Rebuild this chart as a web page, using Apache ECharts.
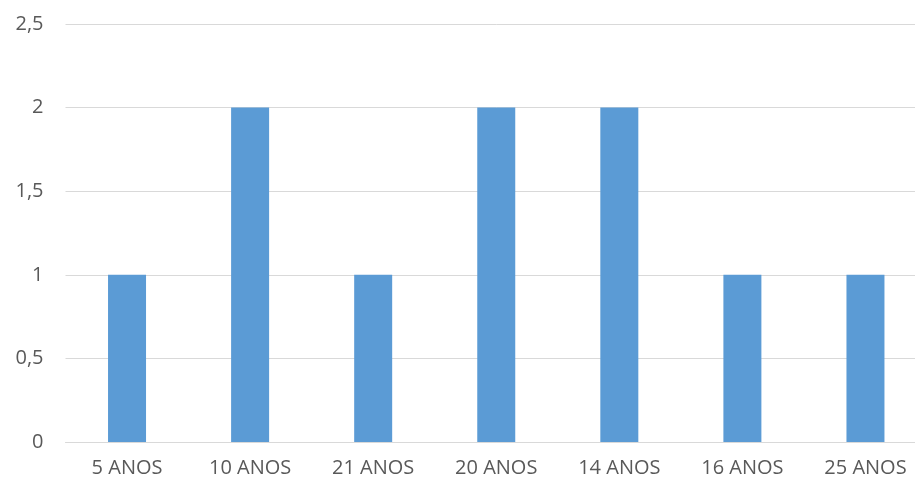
<!DOCTYPE html>
<html>
<head>
<meta charset="utf-8">
<script src="https://cdn.jsdelivr.net/npm/echarts@6/dist/echarts.min.js"></script>
<style>
  html, body { margin: 0; padding: 0; background: #ffffff; overflow: hidden; }
  /* the plot area runs a little past the right edge of the page */
  #chart { width: 927px; height: 479px; }
</style>
</head>
<body>
<div id="chart"></div>
<script>
// Age groups and their counts
const categories = ['5 ANOS', '10 ANOS', '21 ANOS', '20 ANOS', '14 ANOS', '16 ANOS', '25 ANOS'];
const counts = [1, 2, 1, 2, 2, 1, 1];

const axisFont = { fontFamily: '"Open Sans", sans-serif', fontSize: 20, color: '#595959' };

const chart = echarts.init(document.getElementById('chart'), null, { renderer: 'canvas' });
chart.setOption({
  backgroundColor: '#ffffff',
  animation: false,
  grid: { left: 65.5, right: 0, top: 24, bottom: 37, containLabel: false },
  xAxis: {
    type: 'category',
    data: categories,
    axisLine: { show: true, lineStyle: { color: '#d9d9d9', width: 1 } },
    axisTick: { show: false },
    axisLabel: Object.assign({ margin: 16, interval: 0 }, axisFont)
  },
  yAxis: {
    type: 'value',
    min: 0,
    max: 2.5,
    interval: 0.5,
    axisLine: { show: false },
    axisTick: { show: false },
    splitLine: { lineStyle: { color: '#d9d9d9', width: 1 } },
    axisLabel: Object.assign({
      margin: 22,
      formatter: v => String(v).replace('.', ',')
    }, axisFont)
  },
  series: [{
    type: 'bar',
    data: counts,
    barWidth: 38,
    itemStyle: { color: '#5b9bd5' }
  }]
});
</script>
</body>
</html>
